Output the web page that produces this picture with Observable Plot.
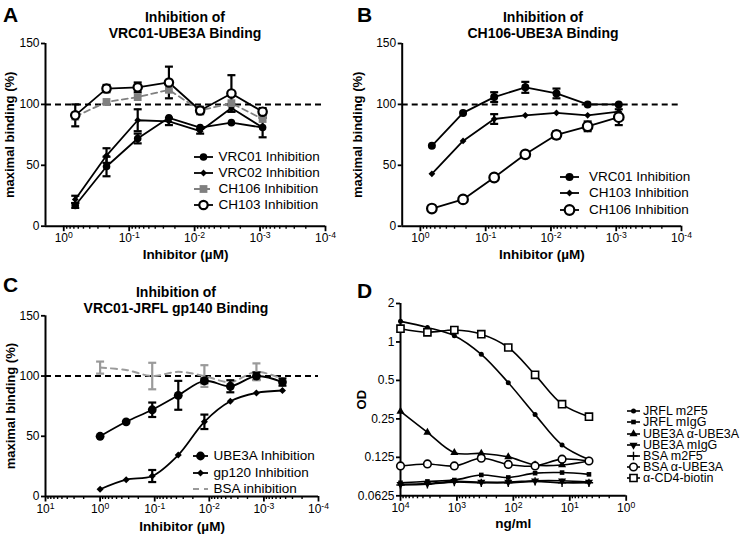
<!DOCTYPE html>
<html><head><meta charset="utf-8">
<script src="https://cdn.jsdelivr.net/npm/d3@7"></script>
<script src="https://cdn.jsdelivr.net/npm/@observablehq/plot@0.6"></script>
<style>
body{margin:0;background:#fff;}
#wrap{position:relative;width:750px;height:534px;background:#fff;font-family:"Liberation Sans",Arial,sans-serif;color:#000;overflow:hidden}
#wrap > svg{position:absolute}
.title{position:absolute;font-weight:bold;font-size:14px;line-height:15.5px;text-align:center;width:300px;white-space:nowrap}
.letter{position:absolute;font-weight:bold;font-size:21px;line-height:21px}
.row{position:absolute;display:flex;align-items:center;white-space:nowrap;height:16px}
.row svg{display:block;overflow:visible}
.row span{display:inline-block;height:10px;line-height:10px;overflow:visible}
g[aria-label="x-axis label"] text{font-weight:bold;font-size:13.5px}
g[aria-label="y-axis label"] text{font-weight:bold;font-size:13px}
</style></head>
<body><div id="wrap"></div>
<script>
// ---------------- DATA ----------------
// Panel A: Inhibition of VRC01-UBE3A binding (x in µM)
const xA = [0.667, 0.222, 0.0741, 0.0247, 0.00823, 0.00274, 0.000914];
const aVRC01 = [17, 49, 72, 89, 81, 85, 81];
const aVRC01Err = [2, 8, 4, 0, 0, 0, 0];
const aVRC02 = [22, 58, 87, 86, 78, 97, 81];
const aVRC02Err = [3, 6, 9, 3, 2, 3, 8];
const aCH106 = [90, 102, 106, 112, 95, 101, 88];
const aCH106Err = [0, 0, 0, 0, 0, 0, 0];
const aCH103 = [91, 113, 114, 118, 95, 109, 94];
const aCH103Err = [9, 3, 4, 13, 3, 15, 3];

// Panel B: Inhibition of CH106-UBE3A binding
const xB = [0.667, 0.222, 0.0741, 0.0247, 0.00823, 0.00274, 0.000914];
const bVRC01 = [66, 93, 106, 114, 109, 100, 100];
const bVRC01Err = [0, 0, 4, 4.5, 4, 0, 0];
const bCH103 = [43, 70, 88, 91, 93, 91, 94];
const bCH103Err = [0, 0, 4, 0, 0, 0, 0];
const bCH106 = [14.5, 22, 40, 59, 75, 82, 89.5];
const bCH106Err = [0, 0, 0, 0, 3, 4, 6.5];

// Panel C: Inhibition of VRC01-JRFL gp140 binding
const xC = [1, 0.333, 0.111, 0.037, 0.0123, 0.00412, 0.00137, 0.000457];
const cUBE3A = [50, 62, 72, 84, 96, 91.5, 100, 95];
const cUBE3AErr = [0, 0, 6, 12, 2, 5, 3, 3];
const cGp120 = [6, 14, 17, 34.5, 62, 79, 86, 88];
const cGp120Err = [0, 0, 5, 0, 6, 0, 0, 0];
const cBSA = [107, 105, 100, 103.5, 100, 95, 103.5, 97.5];
const cBSAErr = [5, 0, 11, 0, 9, 0, 7, 0];

// Panel D: OD vs concentration (ng/ml)
const xD = [10000, 3333, 1111, 370, 123, 41.2, 13.7, 4.57];
const dJRFLm2F5 = [1.45, 1.30, 1.12, 0.80, 0.48, 0.27, 0.156, 0.12];
const dJRFLmIgG = [0.079, 0.081, 0.083, 0.091, 0.087, 0.094, 0.095, 0.092];
const dUBE3Aanti = [0.286, 0.196, 0.136, 0.134, 0.126, 0.109, 0.109, 0.117];
const dUBE3AmIgG = [0.077, 0.078, 0.081, 0.080, 0.080, 0.082, 0.082, 0.080];
const dBSAm2F5 = [0.076, 0.077, 0.080, 0.079, 0.079, 0.081, 0.079, 0.079];
const dBSAanti = [0.107, 0.111, 0.107, 0.123, 0.110, 0.107, 0.121, 0.117];
const dCD4 = [1.27, 1.19, 1.24, 1.15, 0.905, 0.553, 0.326, 0.26];

// Tick values
const yTicksPct = [0, 50, 100, 150];
const yTicksOD = [0.0625, 0.125, 0.25, 0.5, 1, 2];
const xMajorAB = [1, 0.1, 0.01, 0.001, 0.0001];
const xMajorC = [10, 1, 0.1, 0.01, 0.001, 0.0001];
const xMajorD = [10000, 1000, 100, 10, 1];

// ---------------- HELPERS ----------------
const wrap = document.getElementById("wrap");
const FONT = '"Liberation Sans", Arial, sans-serif';
const capSymbol = {draw(ctx, size){ const w = Math.sqrt(size / Math.PI); ctx.moveTo(-w, 0); ctx.lineTo(w, 0); }};
const symMap = {circle: d3.symbolCircle, square: d3.symbolSquare, triangle: d3.symbolTriangle, plus: d3.symbolPlus, diamond: d3.symbolDiamond};

function minorTicks(lo, hi){
  const out = [];
  for (let k = -6; k <= 5; k++) for (let m = 2; m <= 9; m++) { const v = m * Math.pow(10, k); if (v > lo && v < hi) out.push(v); }
  return out;
}
const powFmt = d => "10^" + Math.round(Math.log10(d));

function S(name, x, y, err, style){ return Object.assign({name, x, y, err}, style); }

function seriesMarks(list, curve){
  const lines = [], bars = [], dots = [];
  for (const s of list){
    const pts = s.x.map((x, i) => ({x, y: s.y[i], e: s.err ? s.err[i] : 0}));
    const eb = pts.filter(d => d.e > 0);
    lines.push(Plot.line(pts, {x: "x", y: "y", stroke: s.color, strokeWidth: s.lw, strokeDasharray: s.dash, curve}));
    if (eb.length){
      bars.push(Plot.ruleX(eb, {x: "x", y1: d => d.y - d.e, y2: d => d.y + d.e, stroke: s.ecolor || s.color, strokeWidth: 2.2}));
      bars.push(Plot.dot(eb.flatMap(d => [{x: d.x, y: d.y - d.e}, {x: d.x, y: d.y + d.e}]), {x: "x", y: "y", symbol: capSymbol, r: 4, stroke: s.ecolor || s.color, strokeWidth: 2.2, fill: "none"}));
    }
    if (s.symbol) dots.push(Plot.dot(pts, {x: "x", y: "y", symbol: s.symbol, r: s.r, fill: s.fill, stroke: s.mstroke || "none", strokeWidth: s.msw || 0, rotate: s.rotate || 0}));
  }
  return [...lines, ...bars, ...dots];
}

function fixSup(svg){
  const ns = "http://www.w3.org/2000/svg";
  svg.querySelectorAll('g[aria-label="x-axis tick label"] text').forEach(t => {
    const s = t.textContent; if (!s.includes("^")) return;
    const [b, e] = s.split("^");
    t.textContent = "";
    const t1 = document.createElementNS(ns, "tspan"); t1.textContent = b;
    const t2 = document.createElementNS(ns, "tspan"); t2.textContent = e; t2.setAttribute("dy", "-0.45em"); t2.setAttribute("font-size", "0.72em");
    t.append(t1, t2);
  });
}

function panel(c){
  const svg = Plot.plot({
    width: c.width, height: c.height,
    marginTop: c.mt, marginRight: c.mr, marginBottom: c.mb, marginLeft: c.ml,
    style: {fontFamily: FONT, fontSize: "12px", background: "transparent", color: "#000", overflow: "visible"},
    x: {type: "log", domain: c.xDomain},
    y: c.y,
    marks: [
      c.ref != null ? Plot.ruleY([c.ref], {stroke: "#000", strokeWidth: 2, strokeDasharray: "6,4"}) : null,
      Plot.axisX({ticks: minorTicks(Math.min(...c.xDomain), Math.max(...c.xDomain)), tickSize: 3, tickFormat: () => "", strokeWidth: 1.4, label: null}),
      Plot.axisX({ticks: c.xMajor, tickSize: 5.5, tickPadding: 2, tickFormat: powFmt, strokeWidth: 1.8, label: c.xLabel, labelAnchor: "center", labelArrow: "none", labelOffset: c.xlo}),
      Plot.axisY({ticks: c.yTicks, tickSize: 4, tickPadding: 2, tickFormat: c.yFmt, strokeWidth: 1.8, label: c.yLabel, labelAnchor: "center", labelArrow: "none", labelOffset: c.ylo}),
      Plot.ruleX([c.xDomain[0]], {stroke: "#000", strokeWidth: 2}),
      Plot.ruleY([c.yBase], {stroke: "#000", strokeWidth: 2}),
      ...seriesMarks(c.series, c.curve || "linear")
    ]
  });
  fixSup(svg);
  svg.style.left = c.left + "px"; svg.style.top = c.top + "px";
  wrap.append(svg);
}

function swatch(s, w, h){
  const svg = d3.create("svg").attr("width", w).attr("height", h);
  svg.append("line").attr("x1", 0).attr("x2", w).attr("y1", h/2).attr("y2", h/2)
    .attr("stroke", s.color).attr("stroke-width", s.lw).attr("stroke-dasharray", s.dash || null);
  if (s.symbol) svg.append("path").attr("d", d3.symbol(symMap[s.symbol], Math.PI * s.r * s.r)())
    .attr("transform", `translate(${w/2},${h/2}) rotate(${s.rotate || 0})`)
    .attr("fill", s.fill).attr("stroke", s.mstroke || "none").attr("stroke-width", s.msw || 0);
  return svg.node();
}
function legend(list, L){
  list.forEach((s, i) => {
    const row = document.createElement("div");
    row.className = "row";
    row.style.left = L.x0 + "px"; row.style.top = (L.ys[i] - 8) + "px"; row.style.fontSize = L.fs + "px";
    row.append(swatch(s, L.x1 - L.x0, 16));
    const sp = document.createElement("span"); sp.textContent = s.name; sp.style.marginLeft = (L.tx - L.x1) + "px";
    row.append(sp);
    wrap.append(row);
  });
}
function title(text, cx, top){
  const d = document.createElement("div"); d.className = "title";
  d.style.left = (cx - 150) + "px"; d.style.top = top + "px"; d.innerHTML = text; wrap.append(d);
}
function letter(ch, x, top){
  const d = document.createElement("div"); d.className = "letter";
  d.style.left = x + "px"; d.style.top = top + "px"; d.textContent = ch; wrap.append(d);
}

// ---------------- STYLES ----------------
const K = "#000", G = "#808080", G2 = "#9a9a9a";
const stFilledCircle = r => ({color: K, lw: 1.8, symbol: "circle", r, fill: K});
const stDiamond = r => ({color: K, lw: 1.8, symbol: "square", rotate: 45, r, fill: K});
const stOpenCircle = r => ({color: K, lw: 1.8, symbol: "circle", r, fill: "#fff", mstroke: K, msw: 2.2});

const seriesA = [
  S("VRC01 Inhibition", xA, aVRC01, aVRC01Err, stFilledCircle(3.8)),
  S("VRC02 Inhibition", xA, aVRC02, aVRC02Err, stDiamond(2.7)),
  S("CH106 Inhibition", xA, aCH106, aCH106Err, {color: G, lw: 1.8, dash: "6,4", symbol: "square", r: 4.4, fill: G}),
  S("CH103 Inhibition", xA, aCH103, aCH103Err, stOpenCircle(4.2))
];
const seriesB = [
  S("VRC01 Inhibition", xB, bVRC01, bVRC01Err, stFilledCircle(4)),
  S("CH103 Inhibition", xB, bCH103, bCH103Err, stDiamond(2.7)),
  S("CH106 Inhibition", xB, bCH106, bCH106Err, stOpenCircle(4.8))
];
const seriesC = [
  S("UBE3A Inhibition", xC, cUBE3A, cUBE3AErr, stFilledCircle(4.4)),
  S("gp120 Inhibition", xC, cGp120, cGp120Err, stDiamond(2.8)),
  S("BSA inhibition", xC, cBSA, cBSAErr, {color: G2, lw: 2, dash: "6,5", ecolor: G2})
];
const dl = 1.6;
const seriesD = [
  S("JRFL m2F5", xD, dJRFLm2F5, null, {color: K, lw: dl, symbol: "circle", r: 2.5, fill: K}),
  S("JRFL mIgG", xD, dJRFLmIgG, null, {color: K, lw: dl, symbol: "square", r: 2.6, fill: K}),
  S("UBE3A α-UBE3A", xD, dUBE3Aanti, null, {color: K, lw: dl, symbol: "triangle", r: 3, fill: K}),
  S("UBE3A mIgG", xD, dUBE3AmIgG, null, {color: K, lw: dl, symbol: "triangle", r: 3, fill: K, rotate: 180}),
  S("BSA m2F5", xD, dBSAm2F5, null, {color: K, lw: dl, symbol: "plus", r: 2.8, fill: "none", mstroke: K, msw: 1.4}),
  S("BSA α-UBE3A", xD, dBSAanti, null, {color: K, lw: dl, symbol: "circle", r: 3.8, fill: "#fff", mstroke: K, msw: 1.6}),
  S("α-CD4-biotin", xD, dCD4, null, {color: K, lw: dl, symbol: "square", r: 4, fill: "#fff", mstroke: K, msw: 1.6})
];

// ---------------- PANELS ----------------
const yPct = {domain: [0, 150]};
panel({left: 0, top: 0, width: 375, height: 267, mt: 43, mr: 50, mb: 41.3, ml: 45,
  xDomain: [1.9, 1e-4], xMajor: xMajorAB, y: yPct, yTicks: yTicksPct, yBase: 0, ref: 100,
  xLabel: "Inhibitor (µM)", xlo: 33, yLabel: "maximal binding (%)", ylo: 41, series: seriesA});
panel({left: 345, top: 0, width: 405, height: 267, mt: 43, mr: 69, mb: 41.3, ml: 56.7,
  xDomain: [1.9, 1e-4], xMajor: xMajorAB, y: yPct, yTicks: yTicksPct, yBase: 0, ref: 100,
  xLabel: "Inhibitor (µM)", xlo: 33, yLabel: "maximal binding (%)", ylo: 49, series: seriesB});
panel({left: 0, top: 267, width: 375, height: 267, mt: 48.3, mr: 57, mb: 38, ml: 45,
  xDomain: [10, 1e-4], xMajor: xMajorC, y: yPct, yTicks: yTicksPct, yBase: 0, ref: 100,
  xLabel: "Inhibitor (µM)", xlo: 34, yLabel: "maximal binding (%)", ylo: 40, series: seriesC, curve: "catmull-rom"});
panel({left: 330, top: 267, width: 420, height: 267, mt: 36, mr: 124.3, mb: 38.7, ml: 70,
  xDomain: [1e4, 1], xMajor: xMajorD, y: {type: "log", base: 2, domain: [0.0625, 2]}, yTicks: yTicksOD, yFmt: d => String(d), yBase: 0.0625, ref: null,
  xLabel: "ng/ml", xlo: 32, yLabel: "OD", ylo: 44, series: seriesD, curve: "catmull-rom"});

// ---------------- TEXT / LEGENDS ----------------
title("Inhibition of<br>VRC01-UBE3A Binding", 185, 10);
title("Inhibition of<br>CH106-UBE3A Binding", 543, 10);
title("Inhibition of<br>VRC01-JRFL gp140 Binding", 176, 285);
letter("A", 3, 4); letter("B", 357, 4); letter("C", 3, 274); letter("D", 357, 280);

legend(seriesA, {x0: 194, x1: 213, tx: 218.5, ys: [156.7, 173.3, 189.3, 205.3], fs: 13.5});
legend(seriesB, {x0: 560, x1: 579, tx: 589, ys: [176.7, 193.3, 209.5], fs: 13.5});
legend(seriesC, {x0: 193, x1: 208, tx: 213.5, ys: [456.3, 472.7, 488.7], fs: 13.5});
legend(seriesD, {x0: 627, x1: 640, tx: 643, ys: [411, 422.3, 433.5, 444.7, 456, 467.2, 478.4], fs: 12.5});
</script></body></html>
